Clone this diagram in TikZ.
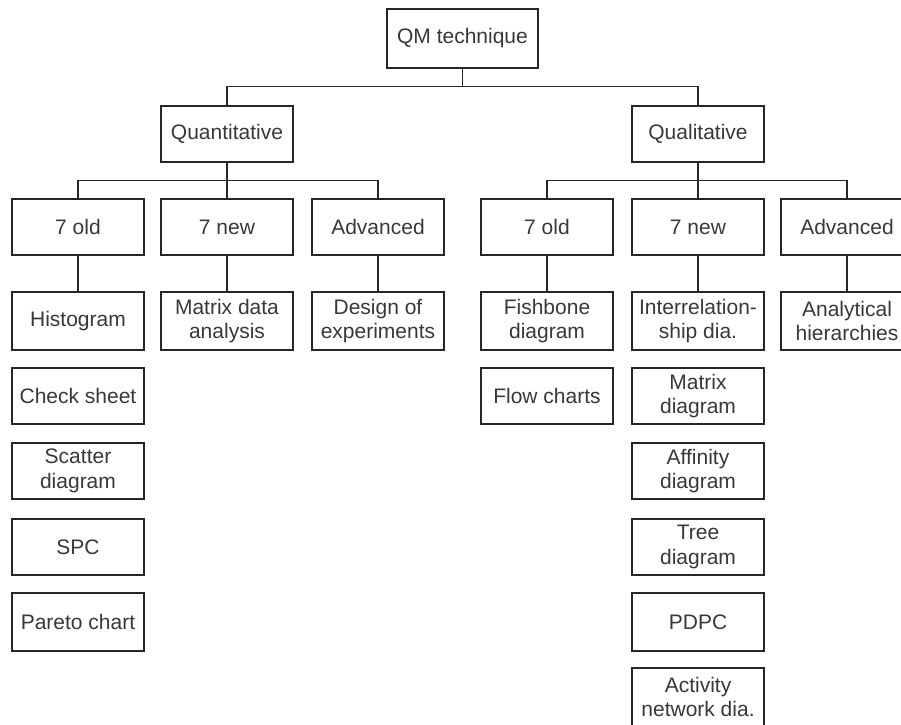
\documentclass[tikz,border=0pt]{standalone}
\usepackage{fontspec}
\setmainfont{Liberation Sans}
\begin{document}
\begin{tikzpicture}[x=1pt,y=-1pt,
  box/.style={draw=black!85, line width=1.4pt, minimum width=132pt, inner sep=0pt,
    align=center, font=\fontsize{21}{24.5}\selectfont, text=black!78},
  conn/.style={line width=1.4pt, draw=black!85}]
\useasboundingbox (0,0) rectangle (901,724);
\clip (0,0) rectangle (901,724);
% level 1
\node[box, minimum width=151pt, minimum height=59pt] (root) at (462.5,38.5) {QM technique};
% level 2
\node[box, minimum height=56pt] (quant) at (227,134) {Quantitative};
\node[box, minimum height=56pt] (qual) at (698,134) {Qualitative};
% level 3
\node[box, minimum height=56pt] (qnold) at (78,227) {7 old};
\node[box, minimum height=56pt] (qnnew) at (227,227) {7 new};
\node[box, minimum height=56pt] (qnadv) at (378,227) {Advanced};
\node[box, minimum height=56pt] (qlold) at (547,227) {7 old};
\node[box, minimum height=56pt] (qlnew) at (698,227) {7 new};
\node[box, minimum height=56pt] (qladv) at (847,227) {Advanced};
% quantitative leaves
\node[box, minimum height=58pt] (hist) at (78,321) {Histogram};
\node[box, minimum height=56pt] (check) at (78,396) {Check sheet};
\node[box, minimum height=56pt] (scat) at (78,471) {Scatter\\diagram};
\node[box, minimum height=56pt] (spc) at (78,547) {SPC};
\node[box, minimum height=58pt] (pareto) at (78,622) {Pareto chart};
\node[box, minimum height=58pt] (mda) at (227,321) {Matrix data\\analysis};
\node[box, minimum height=58pt] (doe) at (378,321) {Design of\\experiments};
% qualitative leaves
\node[box, minimum height=58pt] (fish) at (547,321) {Fishbone\\diagram};
\node[box, minimum height=56pt] (flow) at (547,396) {Flow charts};
\node[box, minimum height=58pt] (inter) at (698,321) {Interrelation-\\ship dia.};
\node[box, minimum height=56pt] (matd) at (698,396) {Matrix\\diagram};
\node[box, minimum height=56pt] (aff) at (698,471) {Affinity\\diagram};
\node[box, minimum height=56pt] (tree) at (698,547) {Tree\\diagram};
\node[box, minimum height=58pt] (pdpc) at (698,622) {PDPC};
\node[box, minimum height=58pt] (act) at (698,697) {Activity\\network dia.};
\node[box, minimum height=58pt] (ahp) at (847,321) {Analytical\\hierarchies};
% connectors
\draw[conn] (root.south) -- ++(0,18) -| (quant.north);
\draw[conn] (root.south) -- ++(0,18) -| (qual.north);
\draw[conn] (quant.south) -- ++(0,18) -| (qnold.north);
\draw[conn] (quant.south) -- (qnnew.north);
\draw[conn] (quant.south) -- ++(0,18) -| (qnadv.north);
\draw[conn] (qual.south) -- ++(0,18) -| (qlold.north);
\draw[conn] (qual.south) -- (qlnew.north);
\draw[conn] (qual.south) -- ++(0,18) -| (qladv.north);
\draw[conn] (qnold) -- (hist);
\draw[conn] (qnnew) -- (mda);
\draw[conn] (qnadv) -- (doe);
\draw[conn] (qlold) -- (fish);
\draw[conn] (qlnew) -- (inter);
\draw[conn] (qladv) -- (ahp);
\end{tikzpicture}
\end{document}
